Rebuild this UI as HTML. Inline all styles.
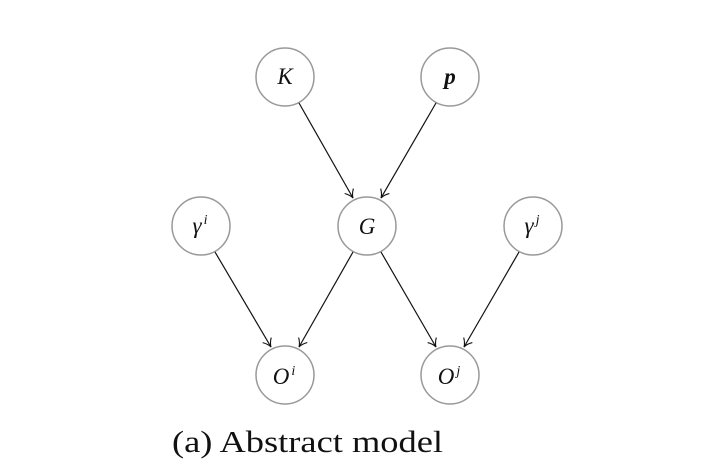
<!DOCTYPE html>
<html><head><meta charset="utf-8"><style>
html,body{margin:0;padding:0;background:#fff;}
svg{display:block;}
</style></head><body>
<svg width="705" height="475" viewBox="0 0 705 475" xmlns="http://www.w3.org/2000/svg">
<defs>
<marker id="a" markerWidth="12" markerHeight="12" refX="10" refY="6" orient="auto" markerUnits="userSpaceOnUse">
<path d="M2,1 Q6,5 10,6 Q6,7 2,11" fill="none" stroke="#111" stroke-width="1.1"/>
</marker>
</defs>
<g fill="none" stroke="#999" stroke-width="1.5">
<circle cx="285" cy="77" r="29"/>
<circle cx="450" cy="77" r="29"/>
<circle cx="201" cy="226" r="29"/>
<circle cx="367" cy="226" r="29"/>
<circle cx="533" cy="226" r="29"/>
<circle cx="285" cy="375" r="29"/>
<circle cx="450" cy="375" r="29"/>
</g>
<g stroke="#111" stroke-width="1.2" marker-end="url(#a)">
<line x1="299" y1="103" x2="353" y2="198"/>
<line x1="436" y1="103" x2="381" y2="198"/>
<line x1="215" y1="252" x2="271" y2="347"/>
<line x1="353" y1="252" x2="299" y2="347"/>
<line x1="381" y1="252" x2="436" y2="347"/>
<line x1="519" y1="252" x2="464" y2="347"/>
</g>
<g font-family="Liberation Serif, serif" font-style="italic" font-size="23" fill="#111" text-anchor="middle">
<text x="285" y="84">K</text>
<text x="450" y="84" font-weight="bold">p</text>
<text x="200" y="233">γ<tspan font-size="14" dx="2" dy="-9">i</tspan></text>
<text x="367" y="234">G</text>
<text x="532" y="233">γ<tspan font-size="14" dx="2" dy="-9">j</tspan></text>
<text x="284" y="384">O<tspan font-size="14" dx="2" dy="-9">i</tspan></text>
<text x="449" y="384">O<tspan font-size="14" dx="2" dy="-9">j</tspan></text>
</g>
<text x="172" y="452" font-family="Liberation Serif, serif" font-size="31" fill="#111" textLength="271" lengthAdjust="spacingAndGlyphs">(a) Abstract model</text>
</svg>
</body></html>
